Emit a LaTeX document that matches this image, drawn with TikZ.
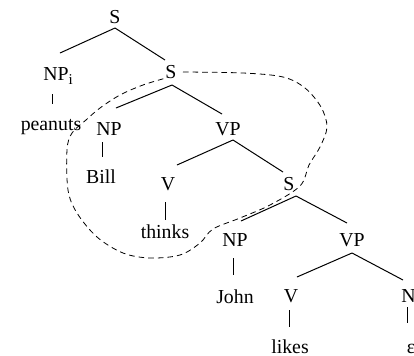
\documentclass[tikz,border=0pt]{standalone}
\usepackage{fontspec}
\setmainfont{Liberation Serif}
\usetikzlibrary{calc}
\tikzset{
  tn/.style={anchor=base, inner sep=0pt, outer sep=0pt, font=\fontsize{9.9}{11}\selectfont},
  br/.style={line width=0.5pt},
  loop/.style={dashed, dash pattern=on 2.8pt off 2pt, line width=0.4pt}
}
\begin{document}
\begin{tikzpicture}[x=0.5pt,y=-0.5pt]
\useasboundingbox (0,0) rectangle (414,355);
% nodes (x = centre, y = baseline, in px)
\node[tn] (S0) at (115,23) {S};
\node[tn] (NPi) at (56,80) {NP\rlap{\raisebox{-0.45ex}{\fontsize{7.5}{8}\selectfont i}}};
\node[tn] (peanuts) at (51,130) {peanuts};
\node[tn] (S1) at (171,78) {S};
\node[tn] (NP1) at (109,135) {NP};
\node[tn] (Bill) at (101,183) {Bill};
\node[tn] (VP1) at (228,135) {VP};
\node[tn] (V1) at (168,190) {V};
\node[tn] (thinks) at (165,238) {thinks};
\node[tn] (S2) at (289,190) {S};
\node[tn] (NP2) at (235,246) {NP};
\node[tn] (John) at (235,303) {John};
\node[tn] (VP2) at (352,246) {VP};
\node[tn] (V2) at (291,302) {V};
\node[tn] (likes) at (290,353) {likes};
\node[tn] (NP3) at (414,302) {NP};
\node[tn] (eps) at (411,353) {ε};
% branches
\draw[br] ([yshift=-2.5pt]S0.base) -- ([xshift=2pt,yshift=13.5pt]NPi.base);
\draw[br] ([yshift=-2.5pt]S0.base) -- ([xshift=-3pt,yshift=9pt]S1.base);
\draw[br] ([xshift=0.5pt,yshift=-3.5pt]S1.base) -- ([xshift=3.5pt,yshift=13.5pt]NP1.base);
\draw[br] ([xshift=0.5pt,yshift=-3.5pt]S1.base) -- ([xshift=-3pt,yshift=10.5pt]VP1.base);
\draw[br] ([xshift=2.5pt,yshift=-2.5pt]VP1.base) -- ([xshift=4.5pt,yshift=12.5pt]V1.base);
\draw[br] ([xshift=2.5pt,yshift=-2.5pt]VP1.base) -- ([xshift=-3pt,yshift=9pt]S2.base);
\draw[br] ([xshift=3.5pt,yshift=-3pt]S2.base) -- ([xshift=3pt,yshift=12.5pt]NP2.base);
\draw[br] ([xshift=3.5pt,yshift=-3pt]S2.base) -- ([xshift=-2.5pt,yshift=11.5pt]VP2.base);
\draw[br] ([yshift=-3.5pt]VP2.base) -- ([xshift=3pt,yshift=12.5pt]V2.base);
\draw[br] ([yshift=-3.5pt]VP2.base) -- ([xshift=-5.5pt,yshift=11pt]NP3.base);
% unary branches
\draw[br] ($(NPi.base)+(-3,14)$) -- ($(NPi.base |- peanuts.base)+(-3,-26)$);
\draw[br] ($(NP1.base)+(-6,7)$) -- ($(NP1.base |- Bill.base)+(-6,-26)$);
\draw[br] ($(V1.base)+(-2,12)$) -- ($(V1.base |- thinks.base)+(-2,-18)$);
\draw[br] ($(NP2.base)+(-1,12)$) -- ($(NP2.base |- John.base)+(-1,-28)$);
\draw[br] ($(V2.base)+(-1,8)$) -- ($(V2.base |- likes.base)+(-1,-26)$);
\draw[br] ($(NP3.base)+(-6,5)$) -- ($(NP3.base |- eps.base)+(-6,-30)$);
% dashed domain
\draw[loop] plot[smooth, tension=0.55] coordinates {
 (183,72) (243,73) (283,77) (305,88) (321,107) (327,127) (320,147) (309,165) (300,186)
 (270,205) (240,218) (213,229) (200,243) (180,255) (150,258) (123,253) (97,237)
 (77,213) (68,190) (67,150) (72,133) (86,120) (100,108) (120,95) (143,85) (166,78)};
\end{tikzpicture}
\end{document}
